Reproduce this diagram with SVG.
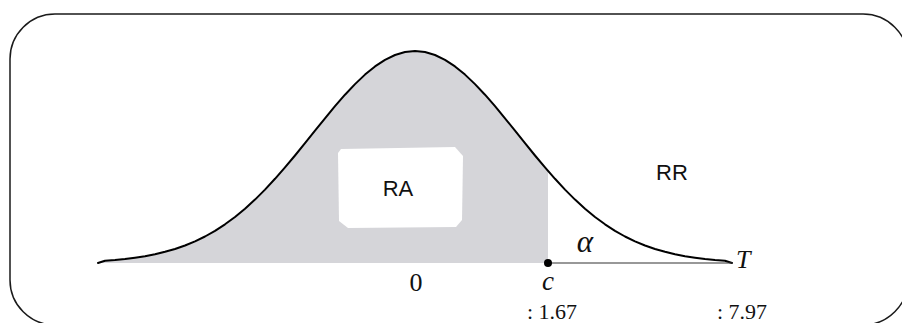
<svg xmlns="http://www.w3.org/2000/svg" width="902" height="323" viewBox="0 0 902 323">
<style>
.frame{fill:none;stroke:#1a1a1a;stroke-width:1.5}
.curve{fill:none;stroke:#000;stroke-width:2;stroke-linejoin:round;stroke-linecap:round}
.shade{fill:#d5d5d9;stroke:none}
.sans{font-family:"Liberation Sans",Arial,sans-serif;font-size:22px;fill:#111}
.serif{font-family:"Liberation Serif","Times New Roman",serif;fill:#111}
.it{font-style:italic}
</style>
<rect class="frame" x="10" y="14" width="898" height="311" rx="45" ry="45"/>
<g id="acceptance-region">
<path class="shade" d="M98,263 L105,260.7 L115,260 L125,259 L135,257.7 L145,256.2 L155,254.2 L165,251.8 L175,249 L185,245.5 L195,241.3 L205,236.5 L215,230.8 L225,224.3 L235,217 L245,208.7 L255,199.6 L265,189.6 L275,178.8 L285,167.4 L295,155.5 L305,143.1 L315,130.7 L325,118.3 L335,106.2 L345,94.7 L355,84.1 L365,74.6 L375,66.4 L385,59.8 L395,55 L405,52 L415,51 L425,52 L435,55 L445,59.8 L455,66.4 L465,74.6 L475,84.1 L485,94.7 L495,106.2 L505,118.3 L515,130.7 L525,143.1 L535,155.5 L545,167.4 L548,170.9 L548,263 Z"/>
<path fill="#fff" d="M341,149 L455,147 L463,156 L462,220 L456,227 L348,228 L339,221 L338,153 Z"/>
<text class="sans" x="398" y="196" text-anchor="middle">RA</text>
</g>
<g id="density-curve">
<path class="curve" d="M98,263 L105,260.7 L115,260 L125,259 L135,257.7 L145,256.2 L155,254.2 L165,251.8 L175,249 L185,245.5 L195,241.3 L205,236.5 L215,230.8 L225,224.3 L235,217 L245,208.7 L255,199.6 L265,189.6 L275,178.8 L285,167.4 L295,155.5 L305,143.1 L315,130.7 L325,118.3 L335,106.2 L345,94.7 L355,84.1 L365,74.6 L375,66.4 L385,59.8 L395,55 L405,52 L415,51 L425,52 L435,55 L445,59.8 L455,66.4 L465,74.6 L475,84.1 L485,94.7 L495,106.2 L505,118.3 L515,130.7 L525,143.1 L535,155.5 L545,167.4 L555,178.8 L565,189.6 L575,199.6 L585,208.7 L595,217 L605,224.3 L615,230.8 L625,236.5 L635,241.3 L645,245.5 L655,249 L665,251.8 L675,254.2 L685,256.2 L695,257.7 L705,259 L715,260 L725,260.7 L732,263"/>
</g>
<g id="rejection-region">
<line x1="548" y1="263" x2="732" y2="263" stroke="#333" stroke-width="1.2"/>
<circle cx="548" cy="263" r="4" fill="#000"/>
<text class="sans" x="672" y="180" text-anchor="middle">RR</text>
<text class="serif it" x="585" y="252" font-size="31" text-anchor="middle">α</text>
</g>
<g id="labels">
<text class="serif" x="416" y="291" font-size="26" text-anchor="middle">0</text>
<text class="serif it" x="548" y="290" font-size="27" text-anchor="middle">c</text>
<text class="serif it" x="736" y="268" font-size="26">T</text>
<text class="serif" x="527" y="319" font-size="22">: 1.67</text>
<text class="serif" x="717" y="319" font-size="22">: 7.97</text>
</g>
</svg>
